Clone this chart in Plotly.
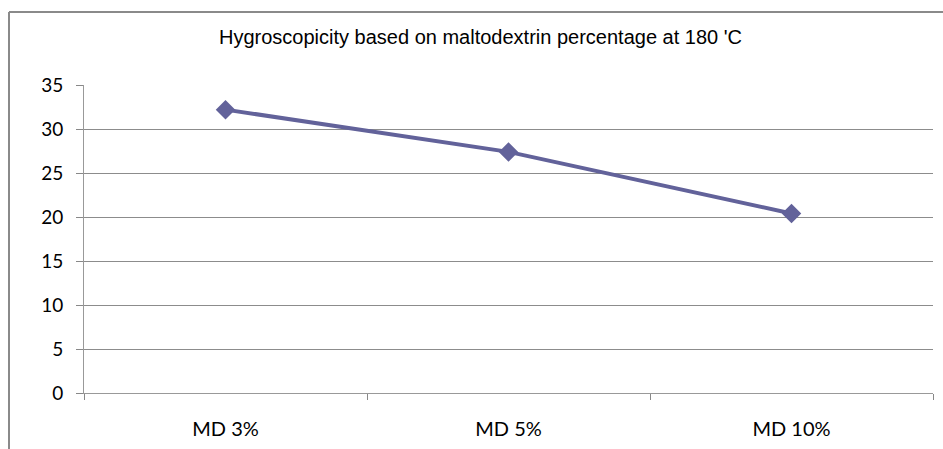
import plotly.graph_objects as go

categories = ["MD 3%", "MD 5%", "MD 10%"]
values = [32.2, 27.4, 20.4]
y_ticks = [0, 5, 10, 15, 20, 25, 30, 35]
title_text = "Hygroscopicity based on maltodextrin percentage at 180 'C"

W, H = 943, 449
L, R, T, B = 84, 10, 85, 56
pw, ph = W - L - R, H - T - B

def px(x):
    return (x - L) / pw

def py(y):
    return (H - B - y) / ph

fig = go.Figure()
fig.add_trace(go.Scatter(
    x=categories, y=values, mode="lines+markers",
    line=dict(color="#62629A", width=4),
    marker=dict(symbol="diamond", size=15, color="#62629A"),
    showlegend=False,
))

fig.update_layout(
    width=W, height=H,
    margin=dict(l=L, r=R, t=T, b=B, pad=0),
    paper_bgcolor="white", plot_bgcolor="white",
    font=dict(family="Lato, Open Sans, sans-serif", color="#000000"),
    xaxis=dict(
        type="category", tickson="boundaries", ticks="outside", ticklen=6,
        tickcolor="#888888", showline=True, linecolor="#999999", linewidth=1,
        showgrid=False, tickfont=dict(size=20), range=[-0.5, 2.5],
        ticklabelstandoff=18,
    ),
    yaxis=dict(
        range=[0, 35], tickvals=y_ticks, ticks="outside", ticklen=7,
        tickcolor="#888888", showline=True, linecolor="#999999", linewidth=1,
        showgrid=True, gridcolor="#8C8C8C", gridwidth=1, zeroline=False,
        tickfont=dict(size=19), ticklabelstandoff=9,
    ),
    annotations=[dict(
        text=title_text, xref="paper", yref="paper",
        x=px(480), y=py(37), xanchor="center", yanchor="middle",
        showarrow=False,
        font=dict(family="Liberation Sans, Arial, sans-serif", size=20, color="#000000"),
    )],
    shapes=[
        dict(type="line", xref="paper", yref="paper", x0=px(9), x1=px(945), y0=py(12), y1=py(12),
             line=dict(color="#8A8A8A", width=2)),
        dict(type="line", xref="paper", yref="paper", x0=px(9), x1=px(9), y0=py(12), y1=py(451),
             line=dict(color="#8A8A8A", width=2)),
    ],
)

fig.write_html("out.html")
